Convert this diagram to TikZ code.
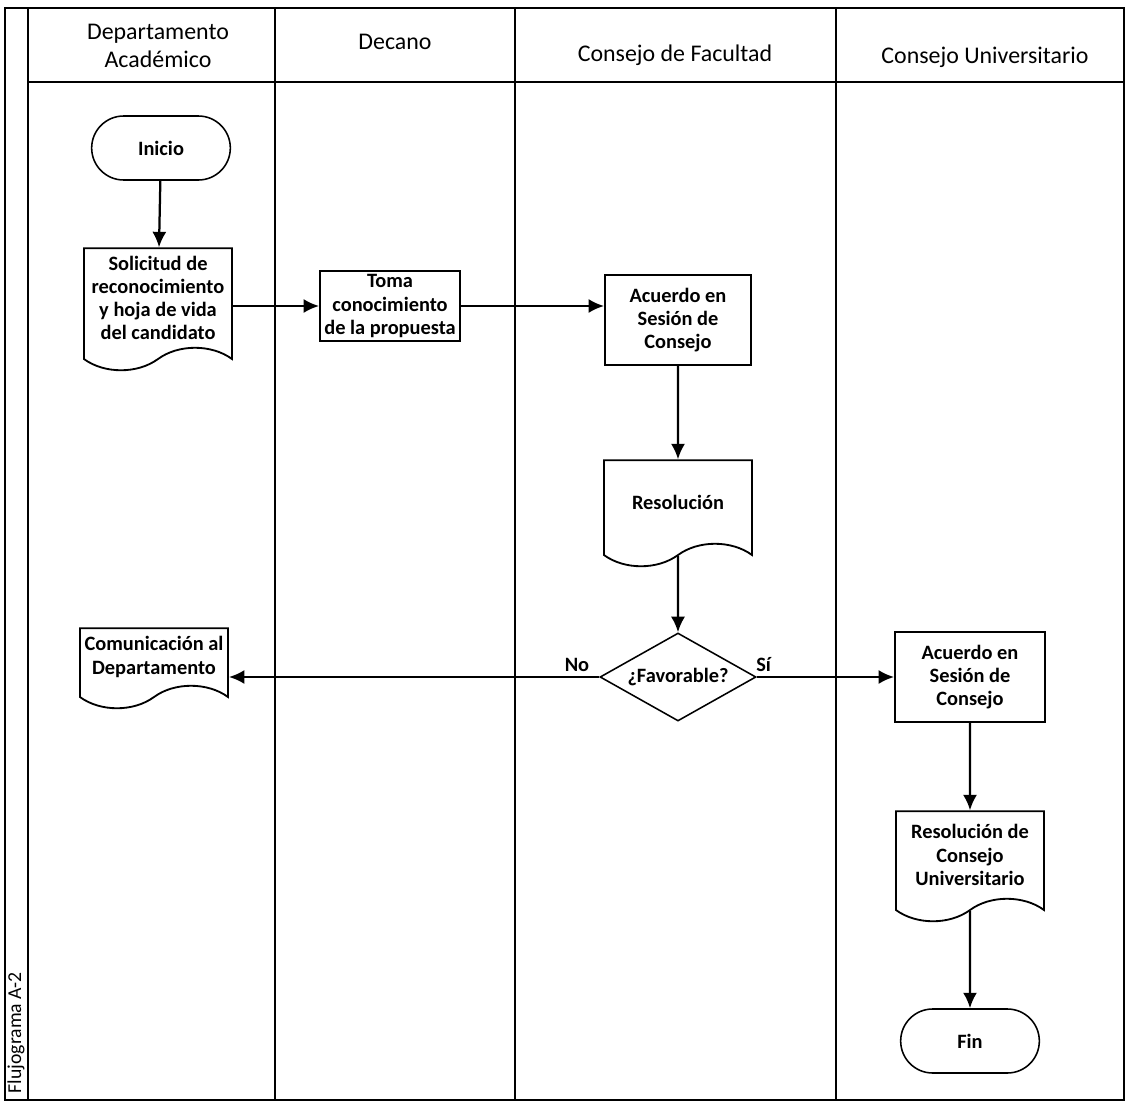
\documentclass[tikz,border=0pt]{standalone}
\usepackage{fontspec}
\setmainfont{Carlito}
\usetikzlibrary{arrows.meta,shapes.geometric,shapes.misc,shapes.symbols}

\begin{document}
\begin{tikzpicture}[x=0.025cm,y=-0.025cm,
    lane/.style ={line width=1.5pt},
    heading/.style ={align=center, font=\fontsize{17}{19.5}\selectfont},
    terminal/.style ={rounded rectangle, draw, line width=1.1pt, minimum width=3.7cm, minimum height=1.6cm, font=\fontsize{14.5}{16.5}\selectfont\bfseries},
    process/.style ={rectangle, draw, line width=1.3pt, align=center, inner sep=2pt, font=\fontsize{14.5}{16.5}\selectfont\bfseries},
    document/.style ={tape, draw, line width=1.3pt, tape bend top=none, tape bend bottom=in and out, tape bend height=16pt, align=center, minimum width=3.7cm, inner sep=2pt, font=\fontsize{14.5}{16.5}\selectfont\bfseries},
    decision/.style ={diamond, draw, line width=1.1pt, aspect=2, minimum width=3.9cm, minimum height=2.2cm, inner sep=0pt, font=\fontsize{14.5}{16.5}\selectfont\bfseries},
    answer/.style ={font=\fontsize{14.5}{16.5}\selectfont\bfseries},
    flow/.style ={line width=1.6pt, -{Latex[length=11pt,width=10pt]}}]
   \useasboundingbox (0,0) rectangle (1127,1111);

   % swimlanes
   \draw[lane] (5,8) rectangle (1124,1100);
   \draw[lane] (28,8) -- (28,1100);
   \draw[lane] (28,82) -- (1124,82);
   \draw[lane] (275,8) -- (275,1100);
   \draw[lane] (515,8) -- (515,1100);
   \draw[lane] (836,8) -- (836,1100);
   \node[rotate=90, anchor=west, font=\fontsize{14}{16}\selectfont] (code) at (16,1098) {Flujograma A-2};

   \node[heading] (h1) at (158,46) {Departamento\\Académico};
   \node[heading] (h2) at (395,42) {Decano};
   \node[heading] (h3) at (675,55) {Consejo de Facultad};
   \node[heading] (h4) at (985,57) {Consejo Universitario};

   % steps
   \node[terminal] (inicio) at (161,148) {Inicio};
   \node[document, minimum height=3.05cm] (solicitud) at (158,298) {Solicitud de\\reconocimiento\\y hoja de vida\\del candidato};
   \node[process, minimum width=3.5cm, minimum height=1.75cm] (toma) at (390,306) {Toma\\conocimiento\\de la propuesta};
   \node[process, minimum width=3.65cm, minimum height=2.25cm] (acuerdo) at (678,320) {Acuerdo en\\Sesión de\\Consejo};
   \node[document, minimum height=2.65cm] (resolucion) at (678,502) {Resolución};
   \node[decision] (favorable) at (678,677) {¿Favorable?};
   \node[document, minimum height=2cm] (comunicacion) at (154,657) {Comunicación al\\Departamento};
   \node[process, minimum width=3.75cm, minimum height=2.25cm] (acuerdocu) at (970,677) {Acuerdo en\\Sesión de\\Consejo};
   \node[document, minimum height=2.75cm] (resolucioncu) at (970,855) {Resolución de\\Consejo\\Universitario};
   \node[terminal] (fin) at (970,1041) {Fin};

   \draw[flow] (inicio) to (solicitud);
   \draw[flow] (solicitud.east |- toma.west) to (toma.west);
   \draw[flow] (toma.east) to (toma.east -| acuerdo.west);
   \draw[flow] (acuerdo) to (resolucion);
   \draw[flow] (resolucion) to (favorable);
   \draw[flow] (favorable.west) to node[pos=0.06, above, answer] {No} (favorable.west -| comunicacion.east);
   \draw[flow] (favorable.east) to node[pos=0.05, above, answer] {Sí} (favorable.east -| acuerdocu.west);
   \draw[flow] (acuerdocu) to (resolucioncu);
   \draw[flow] (resolucioncu) to (fin);
 \end{tikzpicture}
\end{document}
